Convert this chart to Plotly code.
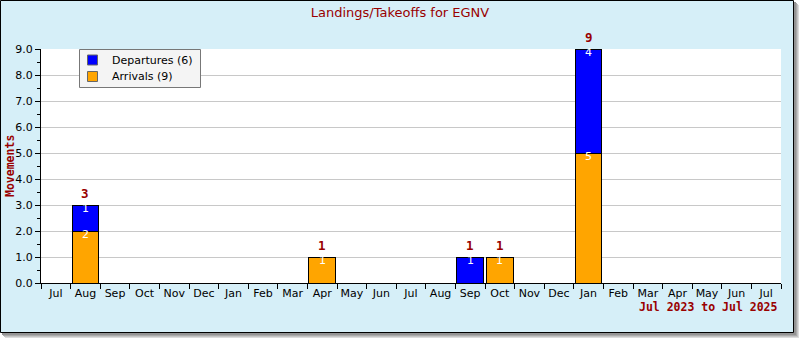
import plotly.graph_objects as go

# Monthly movements at EGNV, Jul 2023 - Jul 2025
month_keys = [
    "2023-07", "2023-08", "2023-09", "2023-10", "2023-11", "2023-12",
    "2024-01", "2024-02", "2024-03", "2024-04", "2024-05", "2024-06",
    "2024-07", "2024-08", "2024-09", "2024-10", "2024-11", "2024-12",
    "2025-01", "2025-02", "2025-03", "2025-04", "2025-05", "2025-06",
    "2025-07",
]
month_labels = [
    "Jul", "Aug", "Sep", "Oct", "Nov", "Dec", "Jan", "Feb", "Mar", "Apr",
    "May", "Jun", "Jul", "Aug", "Sep", "Oct", "Nov", "Dec", "Jan", "Feb",
    "Mar", "Apr", "May", "Jun", "Jul",
]
arrivals = [0, 2, 0, 0, 0, 0, 0, 0, 0, 1, 0, 0, 0, 0, 0, 1, 0, 0, 5, 0, 0, 0, 0, 0, 0]
departures = [0, 1, 0, 0, 0, 0, 0, 0, 0, 0, 0, 0, 0, 0, 1, 0, 0, 0, 4, 0, 0, 0, 0, 0, 0]
y_ticks = [0, 1, 2, 3, 4, 5, 6, 7, 8, 9]

W, H = 800, 340
ML, MR, MT, MB = 41, 19, 49, 57
PW, PH = W - ML - MR, H - MT - MB

DARK_RED = "#990000"
FRAME_BG = "#d6eff8"
ARR_COLOR = "#ffa500"
DEP_COLOR = "#0000ff"


def px(x):
    return (x - ML) / PW


def py(y):
    return (H - MB - y) / PH


def nz(v):
    return [a if a else None for a in v]


fig = go.Figure()
fig.add_trace(go.Bar(
    x=month_keys, y=nz(arrivals), name=f"Arrivals ({sum(arrivals)})",
    marker=dict(color=ARR_COLOR, line=dict(color="black", width=1)),
    showlegend=False,
))
fig.add_trace(go.Bar(
    x=month_keys, y=nz(departures), name=f"Departures ({sum(departures)})",
    marker=dict(color=DEP_COLOR, line=dict(color="black", width=1)),
    showlegend=False,
))

annotations = []
for k, a, d in zip(month_keys, arrivals, departures):
    base = 0
    for v in (a, d):
        if v:
            base += v
            annotations.append(dict(
                x=k, y=base, xref="x", yref="y", text=str(v), showarrow=False,
                yanchor="middle", yshift=-3,
                font=dict(family="DejaVu Sans", size=11, color="white"),
            ))
    if a + d:
        annotations.append(dict(
            x=k, y=a + d, xref="x", yref="y", text=str(a + d), showarrow=False,
            yanchor="bottom", yshift=2,
            font=dict(family="DejaVu Sans Mono", size=12.5, color=DARK_RED,
                      weight="bold"),
        ))

annotations.append(dict(
    x=px(10), y=0.5, xref="paper", yref="paper", text="Movements",
    textangle=-90, showarrow=False, xanchor="center", yanchor="middle",
    font=dict(family="DejaVu Sans Mono", size=11.5, color=DARK_RED, weight="bold"),
))
annotations.append(dict(
    x=px(780), y=py(307), xref="paper", yref="paper", text="Jul 2023 to Jul 2025",
    showarrow=False, xanchor="right", yanchor="middle",
    font=dict(family="DejaVu Sans Mono", size=11.5, color=DARK_RED, weight="bold"),
))

shapes = []
# drop shadow
for off, col in ((5, "#dcdcdc"), (4, "#c4c4c4"), (3, "#aaaaaa"), (2, "#949494")):
    shapes.append(dict(type="rect", xref="paper", yref="paper", layer="below",
                       x0=px(off), x1=px(794 + off), y0=py(off), y1=py(333 + off),
                       line=dict(width=0), fillcolor=col))
# frame
shapes.append(dict(type="rect", xref="paper", yref="paper", layer="below",
                   x0=px(0.5), x1=px(793.5), y0=py(0.5), y1=py(332.5),
                   line=dict(color="black", width=1), fillcolor=FRAME_BG))
# plotting area
shapes.append(dict(type="rect", xref="paper", yref="paper", layer="below",
                   x0=0, x1=1, y0=0, y1=1, line=dict(width=0), fillcolor="white"))

# legend box with one swatch per series
shapes.append(dict(type="rect", xref="paper", yref="paper", layer="above",
                   x0=px(79.5), x1=px(200.5), y0=py(49.5), y1=py(87.5),
                   line=dict(color="#777777", width=1), fillcolor="#f4f4f4"))
legend_items = [(f"Departures ({sum(departures)})", DEP_COLOR, 60),
                (f"Arrivals ({sum(arrivals)})", ARR_COLOR, 76.5)]
for label, col, cy in legend_items:
    shapes.append(dict(type="rect", xref="paper", yref="paper", layer="above",
                       x0=px(87.5), x1=px(97.5), y0=py(cy - 5), y1=py(cy + 5),
                       line=dict(color="#666666", width=1), fillcolor=col))
    annotations.append(dict(
        x=px(110), y=py(cy), xref="paper", yref="paper", text=label,
        showarrow=False, xanchor="left", yanchor="middle",
        font=dict(family="DejaVu Sans", size=11, color="black"),
    ))

fig.update_layout(
    width=W, height=H,
    margin=dict(l=ML, r=MR, t=MT, b=MB, pad=0),
    paper_bgcolor="white", plot_bgcolor="white",
    barmode="stack", bargap=0.1,
    font=dict(family="DejaVu Sans", size=11, color="black"),
    title=dict(text="Landings/Takeoffs for EGNV", x=0.5, xanchor="center",
               y=1 - 12 / H, yanchor="middle", yref="container",
               font=dict(family="DejaVu Sans", size=13, color=DARK_RED)),
    showlegend=False,
    annotations=annotations,
    shapes=shapes,
    xaxis=dict(
        type="category", categoryorder="array", categoryarray=month_keys,
        tickmode="array", tickvals=month_keys, ticktext=month_labels,
        tickson="boundaries", ticks="outside", ticklen=5, tickcolor="black",
        tickangle=0,
        showline=True, linecolor="black", linewidth=1,
        showgrid=False, range=[-0.5, len(month_keys) - 0.5],
        tickfont=dict(size=11), fixedrange=True,
    ),
    yaxis=dict(
        range=[0, 9], tickmode="array", tickvals=y_ticks, tickformat=".1f",
        ticks="outside", ticklen=5, tickcolor="black",
        showline=True, linecolor="black", linewidth=1,
        showgrid=True, gridcolor="#c8c8c8", gridwidth=1, zeroline=False,
        minor=dict(ticks="outside", ticklen=3, tickcolor="black",
                   dtick=0.5, tick0=0, showgrid=False),
        tickfont=dict(size=11), fixedrange=True,
    ),
)

fig.write_html("out.html")
